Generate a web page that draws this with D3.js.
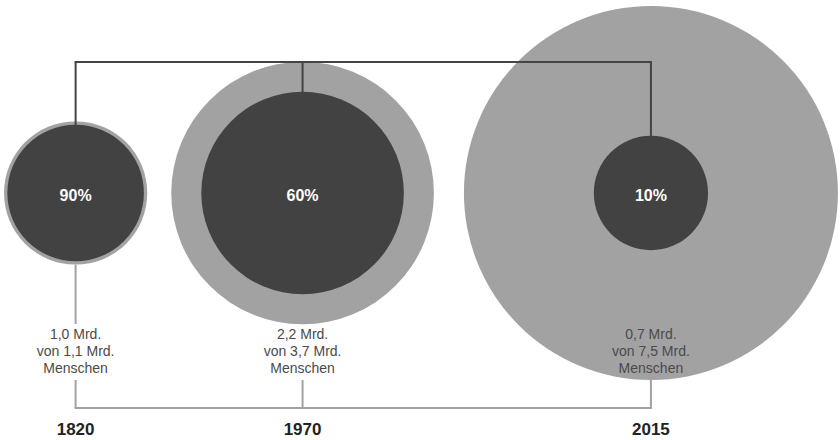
<!DOCTYPE html>
<html lang="de">
<head>
    <meta charset="UTF-8">
    <title>Anteil der Menschen in extremer Armut</title>
    <script src="https://d3js.org/d3.v7.min.js"></script>
    <style>
        body {
            margin: 0;
            background: #fff;
            font-family: "Liberation Sans", Arial, Helvetica, sans-serif;
        }
        #chart {
            display: block;
        }
    </style>
</head>
<body>
    <div id="chart"></div>

    <script>
        // Data
        const years = ["1820", "1970", "2015"];
        const totalPop = [1.1, 3.7, 7.5];      // Mrd. Menschen
        const poorPop = [1.0, 2.2, 0.7];       // Mrd. in Armut
        const shareLabels = ["90%", "60%", "10%"];
        const popLabels = [
            ["1,0 Mrd.", "von 1,1 Mrd.", "Menschen"],
            ["2,2 Mrd.", "von 3,7 Mrd.", "Menschen"],
            ["0,7 Mrd.", "von 7,5 Mrd.", "Menschen"]
        ];

        const width = 840;
        const height = 440;
        const cy = 193;          // circle centre line
        const topLineY = 62;     // dark connector
        const bottomLineY = 408; // light connector
        const gaps = [24, 30];   // space between neighbouring circles
        const leftEdge = 4;

        const svg = d3.select("#chart")
            .append("svg")
            .attr("width", width)
            .attr("height", height);

        // area proportional to population
        const rScale = d3.scaleSqrt()
            .domain([0, d3.max(totalPop)])
            .range([0, 187]);

        // lay circles out side by side
        const cx = [];
        years.forEach((y, i) => {
            if (i === 0) cx.push(leftEdge + rScale(totalPop[0]));
            else cx.push(cx[i - 1] + rScale(totalPop[i - 1]) + gaps[i - 1] + rScale(totalPop[i]));
        });

        const rows = years.map((y, i) => ({
            year: y, total: totalPop[i], poor: poorPop[i],
            share: shareLabels[i], lines: popLabels[i], x: cx[i]
        }));

        // outer circles (total population)
        svg.selectAll(".outer")
            .data(rows)
            .enter().append("circle")
            .attr("class", "outer")
            .attr("cx", d => d.x)
            .attr("cy", cy)
            .attr("r", d => rScale(d.total))
            .attr("fill", "#a2a2a2");

        // light connector at the bottom
        const lineTop = 326, lineBottom = 378; // text block extent
        const light = svg.append("g")
            .attr("stroke", "#a2a2a2")
            .attr("stroke-width", 2)
            .attr("fill", "none");

        light.append("line")
            .attr("x1", cx[0] - 1).attr("x2", cx[cx.length - 1] + 1)
            .attr("y1", bottomLineY).attr("y2", bottomLineY);

        rows.forEach(d => {
            const bottom = cy + rScale(d.total);
            if (bottom < lineTop - 2) {
                light.append("line")
                    .attr("x1", d.x).attr("x2", d.x)
                    .attr("y1", bottom).attr("y2", lineTop - 2);
            }
            light.append("line")
                .attr("x1", d.x).attr("x2", d.x)
                .attr("y1", Math.max(bottom, lineBottom + 2)).attr("y2", bottomLineY);
        });

        // dark connector at the top
        const dark = svg.append("g")
            .attr("stroke", "#444")
            .attr("stroke-width", 2)
            .attr("fill", "none");

        dark.append("line")
            .attr("x1", cx[0] - 1).attr("x2", cx[cx.length - 1] + 1)
            .attr("y1", topLineY).attr("y2", topLineY);

        rows.forEach(d => {
            dark.append("line")
                .attr("x1", d.x).attr("x2", d.x)
                .attr("y1", topLineY).attr("y2", cy - rScale(d.poor) + 1);
        });

        // inner circles (people in poverty)
        svg.selectAll(".inner")
            .data(rows)
            .enter().append("circle")
            .attr("class", "inner")
            .attr("cx", d => d.x)
            .attr("cy", cy)
            .attr("r", d => rScale(d.poor))
            .attr("fill", "#424242");

        // percentages
        svg.selectAll(".share")
            .data(rows)
            .enter().append("text")
            .attr("x", d => d.x)
            .attr("y", cy + 8)
            .attr("text-anchor", "middle")
            .attr("fill", "#fff")
            .style("font-size", "16px")
            .style("font-weight", "bold")
            .text(d => d.share);

        // population labels
        const lbl = svg.selectAll(".lbl")
            .data(rows)
            .enter().append("text")
            .attr("class", "lbl")
            .attr("text-anchor", "middle")
            .attr("fill", "#4a4a4a")
            .style("font-size", "14px");

        lbl.selectAll("tspan")
            .data(d => d.lines.map(t => ({ t, x: d.x })))
            .enter().append("tspan")
            .attr("x", d => d.x)
            .attr("y", (d, i) => 339 + i * 17)
            .text(d => d.t);

        // years
        svg.selectAll(".year")
            .data(rows)
            .enter().append("text")
            .attr("x", d => d.x)
            .attr("y", 435)
            .attr("text-anchor", "middle")
            .attr("fill", "#222")
            .style("font-size", "17px")
            .style("font-weight", "bold")
            .text(d => d.year);
    </script>
</body>
</html>
